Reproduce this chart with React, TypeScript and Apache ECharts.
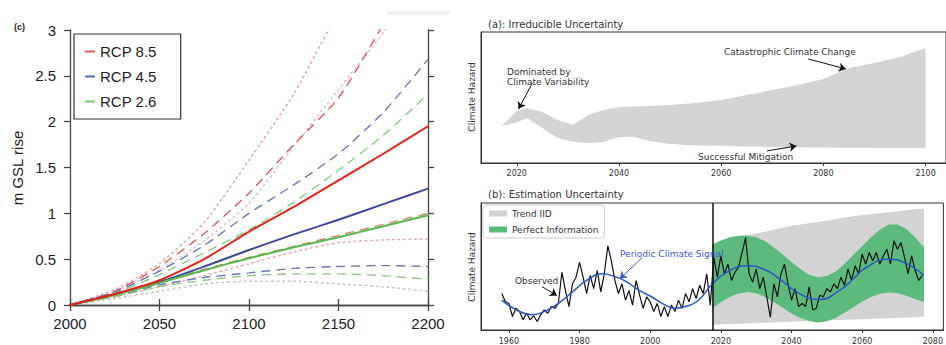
import React, { useEffect, useRef } from "react";
import * as echarts from "echarts";

// ---------- Panel (c): global sea-level rise ----------
const gslYears = [2000, 2025, 2050, 2075, 2100, 2125, 2150, 2175, 2200];
const rcp85 = [0, 0.12, 0.27, 0.5, 0.8, 1.07, 1.36, 1.65, 1.95];
const rcp45 = [0, 0.12, 0.25, 0.42, 0.6, 0.77, 0.93, 1.1, 1.27];
const rcp26 = [0, 0.11, 0.24, 0.38, 0.51, 0.63, 0.74, 0.86, 0.98];
const rcp85Hi = [0, 0.15, 0.42, 0.78, 1.22, 1.75, 2.26, 3.06, 3.9];
const rcp85Lo = [0, 0.12, 0.26, 0.39, 0.52, 0.64, 0.76, 0.88, 1.0];
const rcp45Hi = [0, 0.14, 0.37, 0.65, 1.0, 1.31, 1.65, 2.1, 2.68];
const rcp45Lo = [0, 0.1, 0.22, 0.3, 0.35, 0.4, 0.42, 0.43, 0.42];
const rcp26Hi = [0, 0.13, 0.33, 0.57, 0.82, 1.12, 1.47, 1.85, 2.3];
const rcp26Lo = [0, 0.09, 0.2, 0.27, 0.32, 0.34, 0.34, 0.32, 0.28];
const dotHi1 = [0, 0.17, 0.45, 0.9, 1.58, 2.3, 3.2, 4.0, 4.8];
const dotHi2 = [0, 0.15, 0.38, 0.7, 1.11, 1.73, 2.35, 2.97, 3.6];
const dotLo1 = [0, 0.09, 0.2, 0.32, 0.45, 0.58, 0.68, 0.71, 0.72];
const dotLo2 = [0, 0.07, 0.15, 0.23, 0.26, 0.26, 0.23, 0.2, 0.15];

// ---------- Panel (a): irreducible uncertainty ----------
const irrYears = [2017, 2020, 2022, 2025, 2028, 2031, 2034, 2037, 2040, 2043, 2046, 2050, 2055, 2060, 2065, 2070, 2075, 2080, 2085, 2090, 2095, 2100];
const irrUpper = [2.82, 3.97, 4.2, 3.89, 3.28, 2.9, 3.66, 4.05, 4.27, 4.31, 4.35, 4.43, 4.58, 4.81, 5.19, 5.57, 5.95, 6.41, 7.25, 7.63, 8.09, 8.78];
const irrLower = [2.82, 3.1, 3.44, 2.67, 1.91, 1.62, 1.53, 1.6, 1.98, 1.98, 1.68, 1.45, 1.34, 1.3, 1.26, 1.22, 1.2, 1.18, 1.17, 1.16, 1.15, 1.15];

// ---------- Panel (b): estimation uncertainty ----------
const obsStart = 1958;
const observed = [
  2.87, 2.22, 2.09, 1.06, 1.71, 1.45, 0.8, 1.32, 0.8, 1.12,
  0.67, 1.19, 1.58, 1.32, 1.84, 1.71, 2.09, 4.55, 3.1, 1.84,
  3.64, 4.16, 5.32, 4.16, 2.87, 4.29, 3.26, 4.68, 3.0, 4.42,
  6.62, 5.45, 3.9, 2.87, 3.64, 2.35, 3.1, 1.96, 3.9, 2.74,
  1.71, 2.61, 2.22, 1.45, 2.09, 1.06, 1.84, 1.06, 1.96, 1.45,
  2.35, 1.71, 2.87, 2.22, 3.26, 2.48, 3.52, 2.87, 4.42, 1.96,
  5.71, 4.16, 5.84, 4.42, 5.19, 3.9, 4.55, 4.94, 6.1, 7.27,
  4.42, 3.77, 4.81, 3.26, 4.16, 2.61, 1.0, 3.64, 2.61, 4.42,
  5.19, 3.64, 2.35, 3.26, 1.84, 2.09, 1.84, 3.39, 1.58, 1.71,
  2.74, 2.61, 3.26, 3.0, 3.64, 3.26, 4.16, 3.52, 4.81, 3.9,
  5.06, 4.42, 5.97, 5.19, 6.1, 5.45, 6.1, 5.19, 5.84, 6.36,
  5.19, 7.02, 6.36, 6.88, 5.71, 4.42, 5.84, 4.68, 3.9, 4.29,
];
const signalYears = [1958, 1962, 1966.5, 1970, 1974.5, 1978, 1982, 1986.5, 1990, 1993, 1997, 2000.5, 2004, 2007, 2010, 2013.5, 2017.5, 2022, 2027.5, 2032, 2036, 2042, 2048, 2053.5, 2057, 2061, 2067.5, 2072, 2077.5];
const signal = [2.35, 1.6, 1.2, 1.45, 2.2, 3.0, 3.9, 4.42, 4.2, 3.85, 3.1, 2.6, 2.0, 1.72, 1.85, 2.3, 3.6, 4.6, 5.05, 4.8, 4.15, 2.9, 2.4, 3.1, 3.9, 4.9, 5.58, 5.3, 4.3];
const trendYears = [2017.5, 2020, 2025, 2030, 2035, 2040, 2045, 2050, 2055, 2060, 2065, 2070, 2075, 2077.5];
const trendUpper = [6.8, 7.0, 7.3, 7.6, 7.9, 8.2, 8.4, 8.6, 8.85, 9.05, 9.2, 9.35, 9.5, 9.55];
const trendLower = [0.4, 0.45, 0.5, 0.55, 0.6, 0.65, 0.7, 0.75, 0.8, 0.85, 0.9, 0.95, 1.0, 1.05];
const perfYears = [2017.5, 2020, 2022.5, 2025, 2027.5, 2030, 2032.5, 2035, 2037.5, 2040, 2042.5, 2045, 2047.5, 2050, 2052.5, 2055, 2057.5, 2060, 2062.5, 2065, 2067.5, 2070, 2072.5, 2075, 2077.5];
const perfUpper = [6.7, 7.05, 7.3, 7.42, 7.45, 7.3, 7.0, 6.5, 5.95, 5.35, 4.8, 4.35, 4.15, 4.25, 4.6, 5.2, 5.9, 6.6, 7.3, 7.9, 8.3, 8.3, 7.95, 7.3, 6.5];
const perfLower = [1.7, 2.2, 2.6, 2.88, 3.0, 2.9, 2.6, 2.2, 1.75, 1.3, 0.95, 0.7, 0.6, 0.68, 0.95, 1.35, 1.8, 2.25, 2.6, 2.85, 2.95, 2.9, 2.7, 2.45, 2.2];
const presentYear = 2017.6;

const LS = "'Liberation Sans', Arial, sans-serif";
const DJ = "'DejaVu Sans', sans-serif";
const plain = (v: number) => String(v);

function gslLine(name: string, vals: number[], color: string, type: any, width: number, z: number) {
  return {
    type: "line",
    name,
    xAxisIndex: 0,
    yAxisIndex: 0,
    data: gslYears.map((y, i) => [y, vals[i]]),
    showSymbol: false,
    symbol: "none",
    smooth: 0.2,
    lineStyle: { color, type, width, cap: "round" },
    itemStyle: { color },
    z,
    silent: true,
  };
}

function band(name: string, xi: number, xs: number[], lo: number[], hi: number[], color: string, z: number) {
  return {
    type: "custom",
    name,
    xAxisIndex: xi,
    yAxisIndex: xi,
    silent: true,
    z,
    itemStyle: { color },
    data: xs.map((x, i) => [x, lo[i], hi[i]]),
    encode: { x: 0, y: [1, 2] },
    renderItem: (params: any, api: any) => {
      if (params.dataIndex !== 0) return null;
      const pts: number[][] = [];
      xs.forEach((x, i) => pts.push(api.coord([x, hi[i]])));
      for (let i = xs.length - 1; i >= 0; i--) pts.push(api.coord([xs[i], lo[i]]));
      return { type: "polygon", shape: { points: pts }, style: { fill: color } };
    },
  };
}

const arrowStyle = (color: string) => ({ color, width: 1, type: "solid" });

function arrow(from: number[], to: number[], color: string) {
  return [
    { coord: from, symbol: "none", lineStyle: arrowStyle(color) },
    { coord: to, symbol: "arrow", symbolSize: 7, lineStyle: arrowStyle(color) },
  ];
}

const axisLineC = { show: true, lineStyle: { color: "#444", width: 1.3 } };
const tickC = { show: true, inside: false, length: 6, lineStyle: { color: "#444", width: 1.3 } };
const axisLineR = { show: true, lineStyle: { color: "#333", width: 1 } };
const legendBar = "path://M0,0H10V2H0Z";

const txt = (x: number, y: number, style: any, extra: any = {}) => ({ type: "text", x, y, z: 100, silent: true, style, ...extra });

const option: any = {
  animation: false,
  backgroundColor: "#fff",
  grid: [
    { left: 70, top: 30, width: 358, height: 275 },
    { left: 481, top: 32, width: 470, height: 131, show: true, borderColor: "#333", borderWidth: 1 },
    { left: 481, top: 203, width: 470, height: 129, show: true, borderColor: "#333", borderWidth: 1 },
  ],
  xAxis: [
    {
      gridIndex: 0, type: "value", min: 2000, max: 2200, interval: 50, position: "bottom",
      axisLine: axisLineC, axisTick: tickC, splitLine: { show: false },
      axisLabel: { fontSize: 15, color: "#222", fontFamily: LS, margin: 11, formatter: plain },
    },
    {
      gridIndex: 0, type: "value", min: 2000, max: 2200, interval: 50, position: "top",
      axisLine: axisLineC, axisTick: tickC, splitLine: { show: false }, axisLabel: { show: false },
    },
    {
      gridIndex: 1, type: "value", min: 2013, max: 2104, minInterval: 20, maxInterval: 20, splitNumber: 5,
      axisLine: axisLineR, axisTick: { show: true, length: 3, lineStyle: { color: "#333" } }, splitLine: { show: false },
      axisLabel: { fontSize: 8, color: "#333", fontFamily: DJ, margin: 6, showMinLabel: false, showMaxLabel: false, formatter: plain },
    },
    {
      gridIndex: 2, type: "value", min: 1952.1, max: 2083, minInterval: 20, maxInterval: 20, splitNumber: 7,
      axisLine: axisLineR, axisTick: { show: true, length: 3, lineStyle: { color: "#333" } }, splitLine: { show: false },
      axisLabel: { fontSize: 8, color: "#333", fontFamily: DJ, margin: 7, showMinLabel: false, showMaxLabel: false, formatter: plain },
    },
  ],
  yAxis: [
    {
      gridIndex: 0, type: "value", min: 0, max: 3, interval: 0.5, position: "left",
      axisLine: axisLineC, axisTick: tickC, splitLine: { show: false },
      axisLabel: { fontSize: 15, color: "#222", fontFamily: LS, margin: 14, formatter: plain },
    },
    {
      gridIndex: 0, type: "value", min: 0, max: 3, interval: 0.5, position: "right",
      axisLine: axisLineC, axisTick: tickC, splitLine: { show: false }, axisLabel: { show: false },
    },
    {
      gridIndex: 1, type: "value", min: 0, max: 10,
      axisLine: axisLineR, axisTick: { show: false }, axisLabel: { show: false }, splitLine: { show: false },
    },
    {
      gridIndex: 2, type: "value", min: 0, max: 10,
      axisLine: axisLineR, axisTick: { show: false }, axisLabel: { show: false }, splitLine: { show: false },
    },
  ],
  legend: [
    {
      data: [
        { name: "RCP 8.5", icon: legendBar, itemStyle: { color: "#e05a55" } },
        { name: "RCP 4.5", icon: legendBar, itemStyle: { color: "#5a68ae" } },
        { name: "RCP 2.6", icon: legendBar, itemStyle: { color: "#7cc274" } },
      ],
      orient: "vertical", left: 74, top: 34,
      padding: [10, 24, 10, 11],
      itemWidth: 10, itemHeight: 15, itemGap: 10,
      symbolKeepAspect: true,
      borderColor: "#333", borderWidth: 1.2,
      textStyle: { fontSize: 15, lineHeight: 15, color: "#222", fontFamily: LS },
      selectedMode: false,
    },
    {
      data: [
        { name: "Trend IID", icon: "rect", itemStyle: { color: "#d3d3d3" } },
        { name: "Perfect Information", icon: "rect", itemStyle: { color: "#5cba7c" } },
      ],
      orient: "vertical", left: 483, top: 205,
      padding: [4, 6, 4, 6],
      itemWidth: 18, itemHeight: 6, itemGap: 7,
      borderColor: "#cccccc", borderWidth: 1, borderRadius: 3,
      backgroundColor: "rgba(255,255,255,0.85)",
      textStyle: { fontSize: 9, lineHeight: 6, color: "#333", fontFamily: DJ },
      selectedMode: false,
    },
  ],
  graphic: [
    { type: "rect", shape: { x: 387, y: 11, width: 63, height: 4 }, style: { fill: "#f0f0f0" }, silent: true },
    txt(14, 27, { text: "(c)", fontSize: 9, fontWeight: "bold", fill: "#222", fontFamily: LS, verticalAlign: "middle" }),
    txt(17, 168, { text: "m GSL rise", fontSize: 15, fill: "#222", fontFamily: LS, align: "center", verticalAlign: "middle" }, { rotation: Math.PI / 2 }),
    txt(488, 24, { text: "(a): Irreducible Uncertainty", fontSize: 10, fill: "#333", fontFamily: DJ, verticalAlign: "middle" }),
    txt(488, 194, { text: "(b): Estimation Uncertainty", fontSize: 10, fill: "#333", fontFamily: DJ, verticalAlign: "middle" }),
    txt(472, 97, { text: "Climate Hazard", fontSize: 9, fill: "#333", fontFamily: DJ, align: "center", verticalAlign: "middle" }, { rotation: Math.PI / 2 }),
    txt(472, 267, { text: "Climate Hazard", fontSize: 9, fill: "#333", fontFamily: DJ, align: "center", verticalAlign: "middle" }, { rotation: Math.PI / 2 }),
    txt(507, 67, { text: "Dominated by\nClimate Variability", fontSize: 9, lineHeight: 10, fill: "#333", fontFamily: DJ, verticalAlign: "top" }),
    txt(724, 52, { text: "Catastrophic Climate Change", fontSize: 9, fill: "#333", fontFamily: DJ, verticalAlign: "middle" }),
    txt(698, 157, { text: "Successful Mitigation", fontSize: 9, fill: "#333", fontFamily: DJ, verticalAlign: "middle" }),
    txt(620, 254, { text: "Periodic Climate Signal", fontSize: 9, fill: "#3a5ad0", fontFamily: DJ, verticalAlign: "middle" }),
    txt(515, 281, { text: "Observed", fontSize: 9, fill: "#333", fontFamily: DJ, verticalAlign: "middle" }),
  ],
  series: [
    // panel (c)
    gslLine("dot hi 1", dotHi1, "#e6a3a3", [1.5, 4], 1.5, 1),
    gslLine("dot hi 2", dotHi2, "#dcbcc8", [1.5, 4], 1.5, 1),
    gslLine("dot lo 1", dotLo1, "#e6a3a3", [1.5, 4], 1.5, 1),
    gslLine("dot lo 2", dotLo2, "#c4c0c4", [1.5, 4], 1.5, 1),
    gslLine("RCP 8.5 hi", rcp85Hi, "#d9605a", [8, 7], 1.4, 2),
    gslLine("RCP 4.5 hi", rcp45Hi, "#6a7ab6", [8, 7], 1.4, 2),
    gslLine("RCP 2.6 hi", rcp26Hi, "#8cc686", [8, 7], 1.4, 2),
    gslLine("RCP 8.5 lo", rcp85Lo, "#d98a6a", [8, 7], 1.4, 2),
    gslLine("RCP 4.5 lo", rcp45Lo, "#6a7ab6", [8, 7], 1.4, 2),
    gslLine("RCP 2.6 lo", rcp26Lo, "#8cc686", [8, 7], 1.4, 2),
    gslLine("RCP 4.5", rcp45, "#3b4a9c", "solid", 2, 3),
    gslLine("RCP 2.6", rcp26, "#58b84f", "solid", 2, 3),
    gslLine("RCP 8.5", rcp85, "#e2231a", "solid", 2, 3),
    // panel (a)
    band("Irreducible", 2, irrYears, irrLower, irrUpper, "#d4d4d4", 1),
    {
      type: "line", name: "annot a", xAxisIndex: 2, yAxisIndex: 2, silent: true, z: 4,
      data: irrYears.map((y, i) => [y, irrUpper[i]]),
      showSymbol: false, symbol: "none", lineStyle: { opacity: 0 },
      markLine: {
        silent: true, animation: false, label: { show: false },
        data: [
          arrow([2023.06, 6.11], [2020.35, 4.12], "#111"),
          arrow([2077.06, 7.94], [2084.4, 7.18], "#111"),
          arrow([2068.93, 0.92], [2074.74, 1.3], "#111"),
        ],
      },
    },
    // panel (b)
    band("Trend IID", 3, trendYears, trendLower, trendUpper, "#d3d3d3", 1),
    band("Perfect Information", 3, perfYears, perfLower, perfUpper, "#5cba7c", 2),
    {
      type: "line", name: "Observed", xAxisIndex: 3, yAxisIndex: 3, silent: true, z: 3,
      data: observed.map((v, i) => [obsStart + i, v]),
      showSymbol: false, symbol: "none",
      lineStyle: { color: "#111", width: 1.2 },
      itemStyle: { color: "#111" },
      markLine: {
        silent: true, animation: false, label: { show: false }, symbol: "none",
        data: [
          { xAxis: presentYear, lineStyle: { color: "#111", width: 1.5, type: "solid" } },
          arrow([1969.4, 3.41], [1973.6, 2.71], "#111"),
        ],
      },
    },
    {
      type: "line", name: "Periodic Climate Signal", xAxisIndex: 3, yAxisIndex: 3, silent: true, z: 4,
      data: signalYears.map((y, i) => [y, signal[i]]),
      smooth: true, showSymbol: false, symbol: "none",
      lineStyle: { color: "#2a56c6", width: 1.5 },
      itemStyle: { color: "#2a56c6" },
      markLine: {
        silent: true, animation: false, label: { show: false },
        data: [arrow([1997.8, 5.74], [1991.4, 4.03], "#3a5ad0")],
      },
    },
  ],
};

export default function App() {
  const ref = useRef<HTMLDivElement>(null);
  useEffect(() => {
    if (!ref.current) return;
    const chart = echarts.init(ref.current, null, { renderer: "svg" });
    chart.setOption(option);
    return () => chart.dispose();
  }, []);
  return (
    <div
      ref={ref}
      style={{ position: "fixed", left: 0, top: 0, width: 946, height: 345, background: "#fff" }}
    />
  );
}
